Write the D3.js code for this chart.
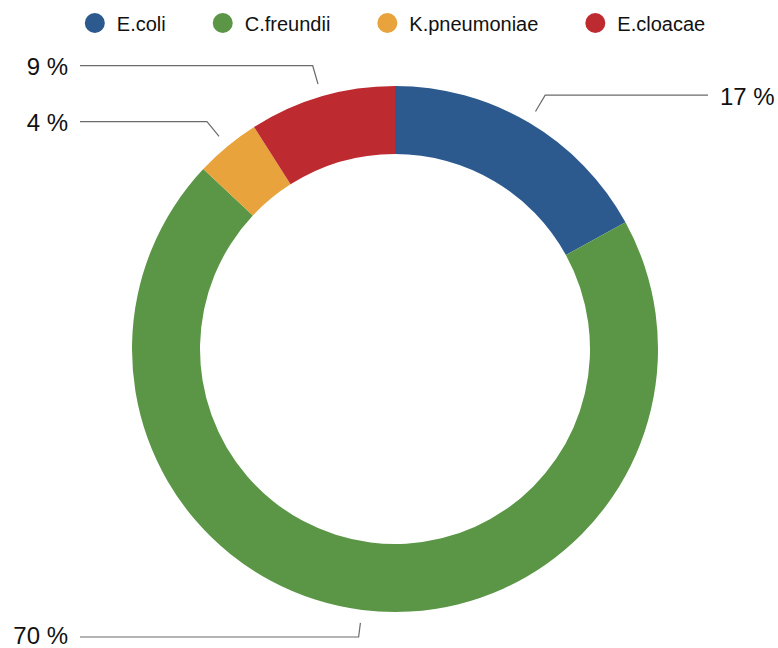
<!DOCTYPE html>
<html>
<head>
<meta charset="utf-8">
<script src="https://cdn.jsdelivr.net/npm/d3@7"></script>
<style>
  html, body { margin: 0; padding: 0; background: #fff; }
  svg { display: block; }
  text { font-family: Helvetica, Arial, "Liberation Sans", sans-serif; fill: #111; }
</style>
</head>
<body>
<svg id="chart" width="778" height="648"></svg>
<script>
// Share of isolates by species (percent)
const categories = ["E.coli", "C.freundii", "K.pneumoniae", "E.cloacae"];
const values = [17, 70, 4, 9];
const colors = ["#2D5A8E", "#5B9646", "#E8A33C", "#BD2B31"];

const W = 778, H = 648;
const cx = 395, cy = 349;
const outerR = 263, innerR = 195;

const svg = d3.select("#chart");

const data = categories.map((c, i) => ({ name: c, value: values[i], color: colors[i] }));

const pie = d3.pie().value(d => d.value).sort(null);
const arc = d3.arc().innerRadius(innerR).outerRadius(outerR);
const arcs = pie(data);

const g = svg.append("g").attr("transform", `translate(${cx},${cy})`);

g.selectAll("path.slice")
  .data(arcs)
  .join("path")
  .attr("class", "slice")
  .attr("d", arc)
  .attr("fill", d => d.data.color);

// Leader lines and percentage labels
const startR = outerR + 13;
const elbowR = outerR + 32;
const leftLineEnd = 80, rightLineEnd = 708;
const minY = 60, maxY = 637;

arcs.forEach(a => {
  const mid = (a.startAngle + a.endAngle) / 2;
  const sx = cx + startR * Math.sin(mid);
  const sy = cy - startR * Math.cos(mid);
  let ex = cx + elbowR * Math.sin(mid);
  let ey = cy - elbowR * Math.cos(mid);
  if (ey > maxY || ey < minY) {
    const ty = Math.max(minY, Math.min(maxY, ey));
    const t = (ty - sy) / (ey - sy);
    ex = sx + (ex - sx) * t;
    ey = ty;
  }
  const right = Math.sin(mid) > 0;
  const lx = right ? rightLineEnd : leftLineEnd;
  svg.append("polyline")
    .attr("points", `${sx},${sy} ${ex},${ey} ${lx},${ey}`)
    .attr("fill", "none")
    .attr("stroke", "#6b6b6b")
    .attr("stroke-width", 1.2);
  svg.append("text")
    .attr("x", right ? lx + 12 : lx - 12)
    .attr("y", Math.min(ey + 1, H - 13))
    .attr("text-anchor", right ? "start" : "end")
    .attr("dominant-baseline", "central")
    .attr("font-size", 24)
    .text(`${a.data.value} %`);
});

// Legend, centred above the ring
const legend = svg.append("g");
const items = legend.selectAll("g.item").data(data).join("g").attr("class", "item");
items.append("circle").attr("r", 10).attr("cx", 10).attr("cy", 0).attr("fill", d => d.color);
items.append("text")
  .attr("x", 32)
  .attr("y", 1)
  .attr("dominant-baseline", "central")
  .attr("font-size", 20)
  .text(d => d.name);

let xPos = 0;
const gap = 47;
items.each(function () {
  const node = d3.select(this);
  node.attr("transform", `translate(${xPos},0)`);
  const w = 32 + node.select("text").node().getComputedTextLength();
  xPos += w + gap;
});
const totalW = xPos - gap;
legend.attr("transform", `translate(${cx - totalW / 2},23)`);
</script>
</body>
</html>
